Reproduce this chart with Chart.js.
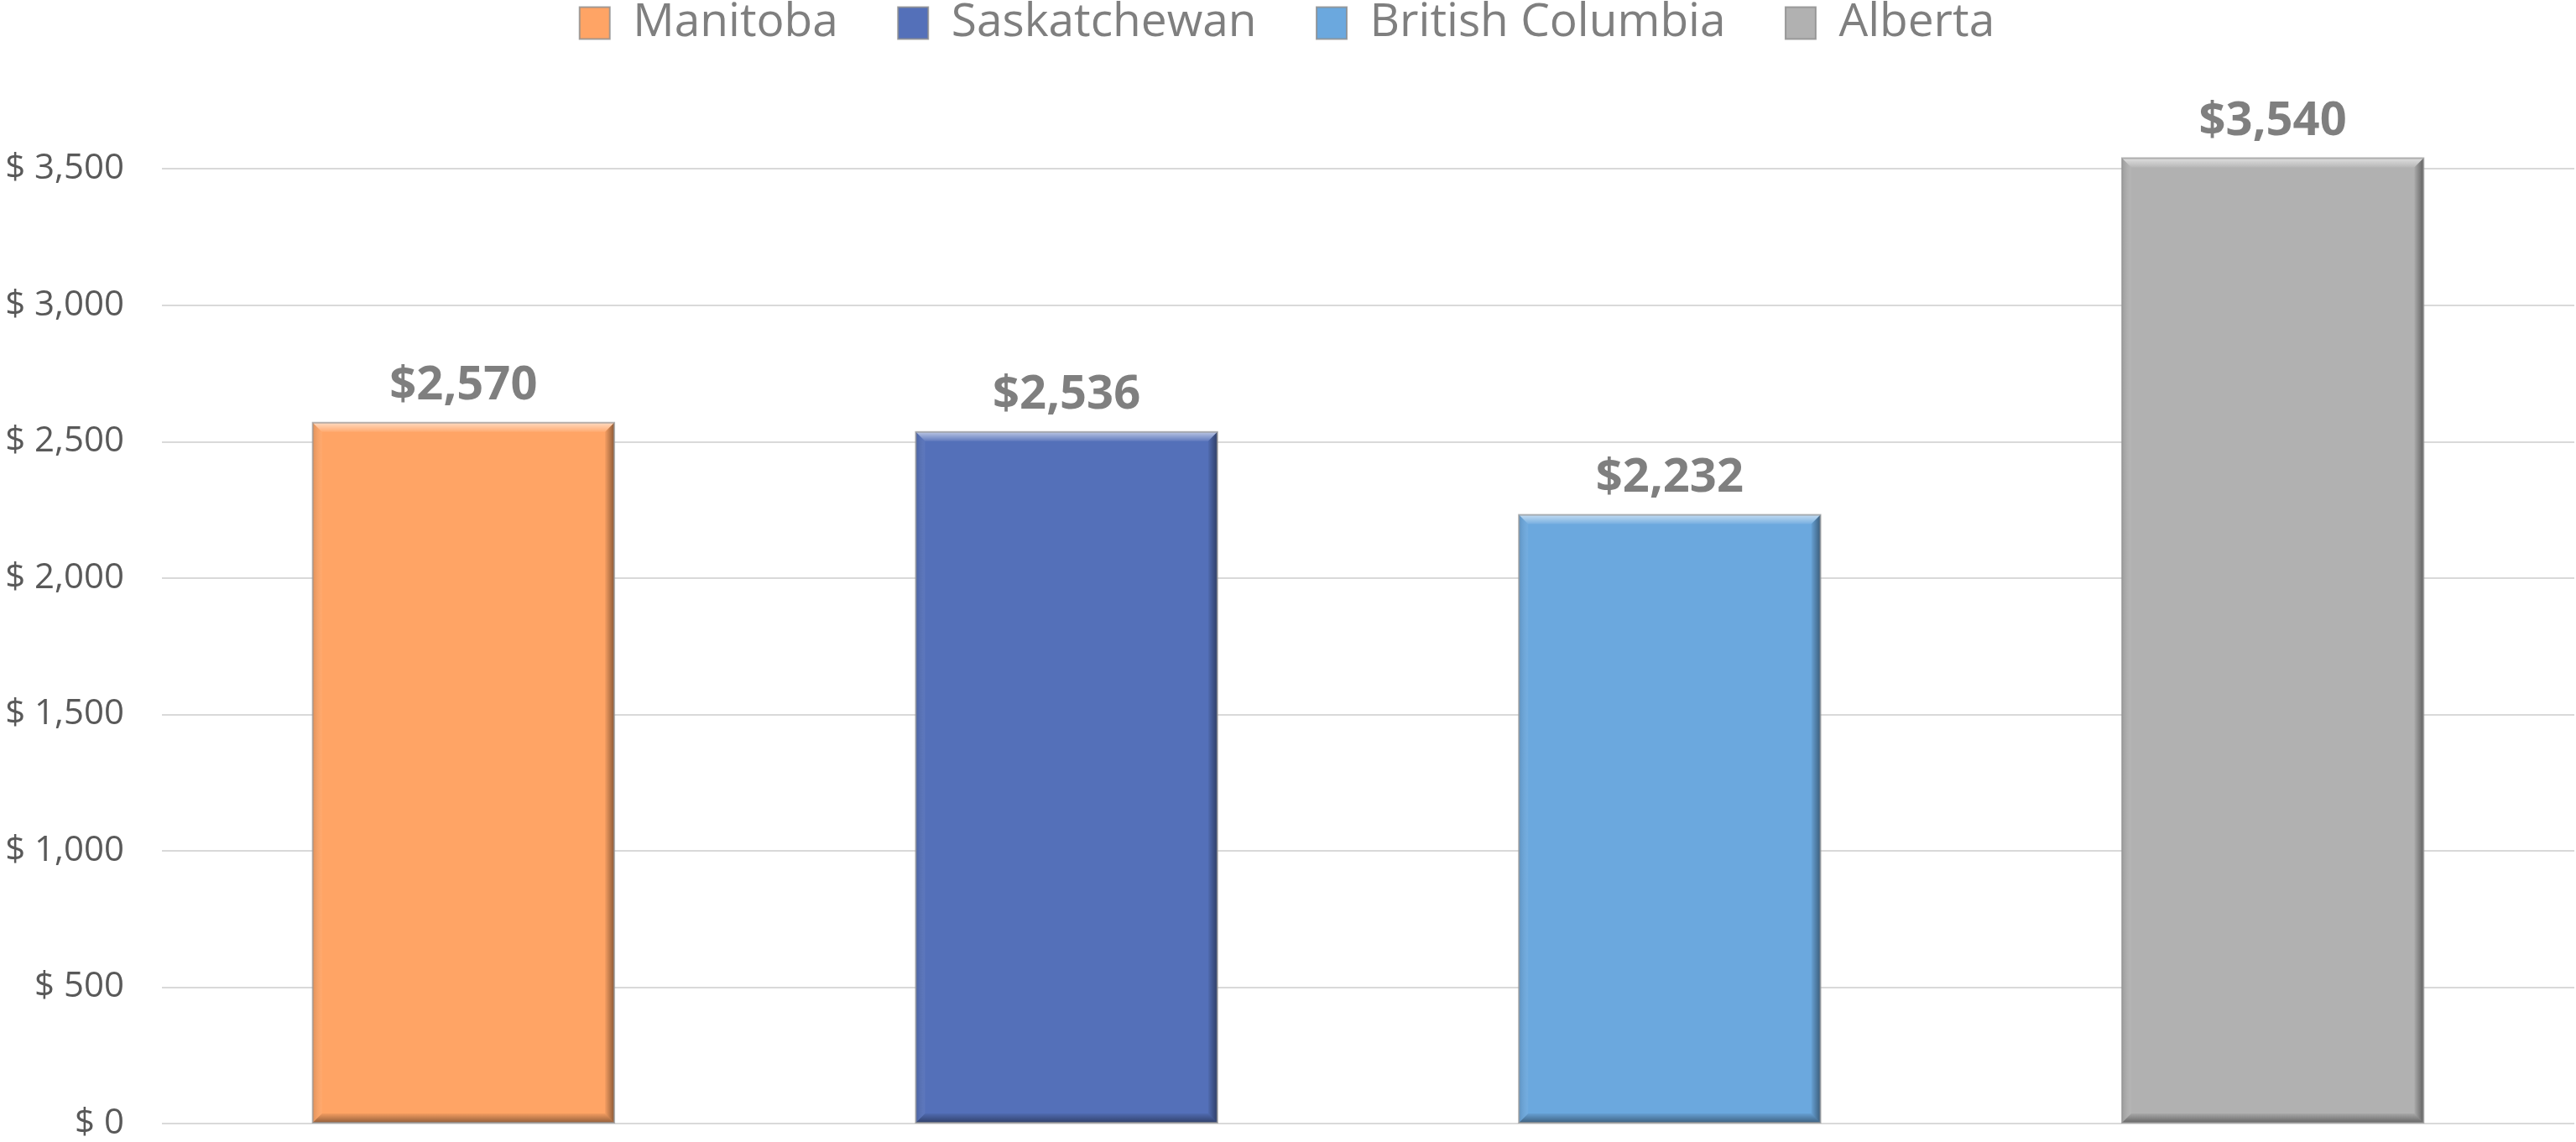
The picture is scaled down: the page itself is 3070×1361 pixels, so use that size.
<!DOCTYPE html>
<html>
<head>
<meta charset="utf-8">
<script src="https://cdn.jsdelivr.net/npm/chart.js@4.4.1/dist/chart.umd.min.js"></script>
<style>
  html, body { margin: 0; padding: 0; background: #fff; }
  #wrap { width: 3070px; height: 1361px; position: relative; }
</style>
</head>
<body>
<div id="wrap"><canvas id="c"></canvas></div>
<script>
// ------- Data -------
const provinces = ['Manitoba', 'Saskatchewan', 'British Columbia', 'Alberta'];
const amounts = [2570, 2536, 2232, 3540];
const barColors = ['#FFA465', '#5470B9', '#6BA8DE', '#B1B1B1'];
const tickValues = [0, 500, 1000, 1500, 2000, 2500, 3000, 3500];

const money = v => '$' + v.toLocaleString('en-US');

// Excel-ish bevel on each bar
const bevel = {
  id: 'bevel',
  afterDatasetsDraw(chart) {
    const ctx = chart.ctx;
    chart.getDatasetMeta(0).data.forEach(bar => {
      const { x, y, width, base } = bar.getProps(['x', 'y', 'width', 'base'], true);
      const l = x - width / 2, r = x + width / 2, t = y, b = base, d = 11;
      const face = (pts, g) => {
        ctx.beginPath();
        ctx.moveTo(pts[0], pts[1]);
        for (let i = 2; i < pts.length; i += 2) ctx.lineTo(pts[i], pts[i + 1]);
        ctx.closePath();
        ctx.fillStyle = g;
        ctx.fill();
      };
      ctx.save();
      let g = ctx.createLinearGradient(0, t, 0, t + d);
      g.addColorStop(0, 'rgba(255,255,255,0.6)'); g.addColorStop(1, 'rgba(255,255,255,0.08)');
      face([l, t, r, t, r - d, t + d, l + d, t + d], g);
      g = ctx.createLinearGradient(0, b - d, 0, b);
      g.addColorStop(0, 'rgba(0,0,0,0.05)'); g.addColorStop(1, 'rgba(0,0,0,0.42)');
      face([l, b, r, b, r - d, b - d, l + d, b - d], g);
      g = ctx.createLinearGradient(r - d, 0, r, 0);
      g.addColorStop(0, 'rgba(0,0,0,0.04)'); g.addColorStop(1, 'rgba(0,0,0,0.45)');
      face([r, t, r, b, r - d, b - d, r - d, t + d], g);
      g = ctx.createLinearGradient(l, 0, l + d, 0);
      g.addColorStop(0, 'rgba(0,0,0,0.12)'); g.addColorStop(1, 'rgba(255,255,255,0.05)');
      face([l, t, l, b, l + d, b - d, l + d, t + d], g);
      ctx.lineWidth = 2;
      ctx.strokeStyle = 'rgba(150,150,150,0.7)';
      ctx.strokeRect(l, t, width, b - t);
      ctx.restore();
    });
  }
};

// value labels above bars
const valueLabels = {
  id: 'valueLabels',
  afterDatasetsDraw(chart) {
    const ctx = chart.ctx;
    ctx.save();
    ctx.font = 'bold 56px "Open Sans"';
    ctx.fillStyle = '#7F7F7F';
    ctx.textAlign = 'center';
    ctx.textBaseline = 'alphabetic';
    chart.getDatasetMeta(0).data.forEach((bar, i) => {
      ctx.fillText(money(amounts[i]), bar.x, bar.y - 28);
    });
    ctx.restore();
  }
};

new Chart(document.getElementById('c'), {
  type: 'bar',
  data: {
    labels: provinces,
    datasets: [{ data: amounts, backgroundColor: barColors, borderWidth: 0,
                 categoryPercentage: 1.0, barPercentage: 0.5 }]
  },
  options: {
    responsive: true, maintainAspectRatio: false, animation: false,
    devicePixelRatio: 1,
    layout: { padding: { top: 0, right: 2, bottom: 22, left: 0 } },
    plugins: {
      tooltip: { enabled: false },
      legend: {
        position: 'top',
        labels: {
          font: { family: 'Open Sans', size: 55 },
          color: '#7F7F7F',
          boxWidth: 36, boxHeight: 38, padding: 0,
          generateLabels: chart => provinces.map((p, i) => ({
            text: i < provinces.length - 1 ? p + '     ' : p,
            fillStyle: barColors[i],
            strokeStyle: 'rgba(140,140,140,0.8)',
            fontColor: '#7F7F7F',
            lineWidth: 2,
            index: i
          }))
        }
      }
    },
    scales: {
      x: { display: false },
      y: {
        min: 0, max: 3920,
        afterBuildTicks: s => { s.ticks = tickValues.map(v => ({ value: v })); },
        afterFit: s => { s.width = 193; s.paddingTop = 0; s.paddingBottom = 0; },
        border: { display: false },
        grid: { color: '#D9D9D9', lineWidth: 2, drawTicks: false },
        ticks: {
          padding: 45,
          color: '#595959',
          font: { family: 'Open Sans', size: 42 },
          callback: v => '$ ' + v.toLocaleString('en-US')
        }
      }
    }
  },
  plugins: [bevel, valueLabels]
});
</script>
</body>
</html>
